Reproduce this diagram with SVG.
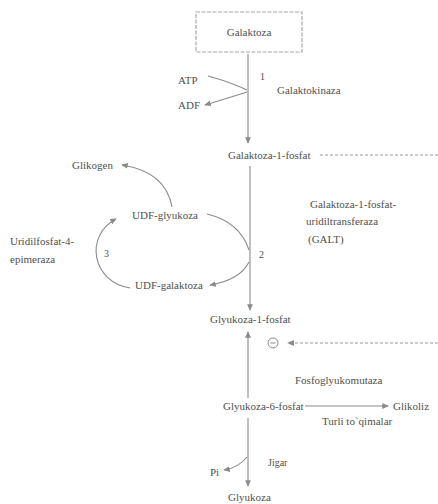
<svg xmlns="http://www.w3.org/2000/svg" width="438" height="504" viewBox="0 0 438 504">
<style>
text{font-family:'Liberation Serif','DejaVu Serif',serif;font-size:11px;fill:#505050}
.s{font-size:10px}
.ln{fill:none;stroke:#8a8a8a;stroke-width:1.1}
.dash{fill:none;stroke:#9a9a9a;stroke-width:1.2;stroke-dasharray:3 2}
</style>
<defs>
<marker id="ah" viewBox="0 0 8 8" refX="7" refY="4" markerWidth="6" markerHeight="6" orient="auto-start-reverse">
<path d="M0,0.5 L8,4 L0,7.5 z" fill="#8a8a8a"/>
</marker>
</defs>
<rect width="438" height="504" fill="#ffffff"/>
<g id="connectors">
<line class="ln" x1="248" y1="54" x2="248" y2="143" marker-end="url(#ah)"/>
<path class="ln" d="M208,76 Q230,82 247,90"/>
<path class="ln" d="M247,92 Q228,98 205,105" marker-end="url(#ah)"/>
<line class="dash" x1="320" y1="155" x2="438" y2="155"/>
<line class="ln" x1="250" y1="166" x2="250" y2="310" marker-end="url(#ah)"/>
<path class="ln" d="M207,214 Q240,222 249,250"/>
<path class="ln" d="M249,262 Q240,280 210,285" marker-end="url(#ah)"/>
<path class="ln" d="M130,288 C92,282 84,236 116,219" marker-end="url(#ah)"/>
<path class="ln" d="M172,207 Q166,172 122,165" marker-end="url(#ah)"/>
<line class="ln" x1="248" y1="398" x2="248" y2="332" marker-end="url(#ah)"/>
<line class="dash" x1="438" y1="343" x2="288" y2="343" marker-end="url(#ah)"/>
<line class="ln" x1="305" y1="406" x2="388" y2="406" marker-end="url(#ah)"/>
<line class="ln" x1="248" y1="418" x2="248" y2="486" marker-end="url(#ah)"/>
<path class="ln" d="M247,457 Q238,468 224,470" marker-end="url(#ah)"/>
</g>
<g id="galaktoza">
<rect x="196" y="12" width="106" height="40" fill="none" stroke="#a8a8a8" stroke-width="1.2" stroke-dasharray="4 1.5"/>
<text x="249" y="36" text-anchor="middle">Galaktoza</text>
</g>
<g id="atp"><text x="178" y="84">ATP</text></g>
<g id="adf"><text x="178" y="109">ADF</text></g>
<g id="galaktokinaza"><text class="s" x="260" y="80">1</text><text x="277" y="94">Galaktokinaza</text></g>
<g id="galaktoza-1-fosfat"><text x="228" y="159">Galaktoza-1-fosfat</text></g>
<g id="glikogen"><text x="72" y="169">Glikogen</text></g>
<g id="udf-glyukoza"><text x="132" y="219">UDF-glyukoza</text></g>
<g id="epimeraza"><text x="10" y="245">Uridilfosfat-4-</text><text x="10" y="263">epimeraza</text><text class="s" x="104" y="257">3</text></g>
<g id="galt"><text x="310" y="208">Galaktoza-1-fosfat-</text><text x="306" y="225">uridiltransferaza</text><text x="308" y="243">(GALT)</text><text class="s" x="259" y="258">2</text></g>
<g id="udf-galaktoza"><text x="135" y="289">UDF-galaktoza</text></g>
<g id="glyukoza-1-fosfat"><text x="210" y="323">Glyukoza-1-fosfat</text></g>
<g id="inhibitor"><circle cx="273" cy="343" r="5" fill="none" stroke="#8a8a8a" stroke-width="1"/><line x1="270.5" y1="343" x2="275.5" y2="343" stroke="#8a8a8a" stroke-width="1"/></g>
<g id="fosfoglyukomutaza"><text x="295" y="384">Fosfoglyukomutaza</text></g>
<g id="glyukoza-6-fosfat"><text x="223" y="410">Glyukoza-6-fosfat</text></g>
<g id="glikoliz"><text x="393" y="410">Glikoliz</text></g>
<g id="turli"><text x="322" y="425">Turli to`qimalar</text></g>
<g id="jigar"><text class="s" x="268" y="466">Jigar</text></g>
<g id="pi"><text x="210" y="476">Pi</text></g>
<g id="glyukoza"><text x="228" y="501">Glyukoza</text></g>
</svg>
